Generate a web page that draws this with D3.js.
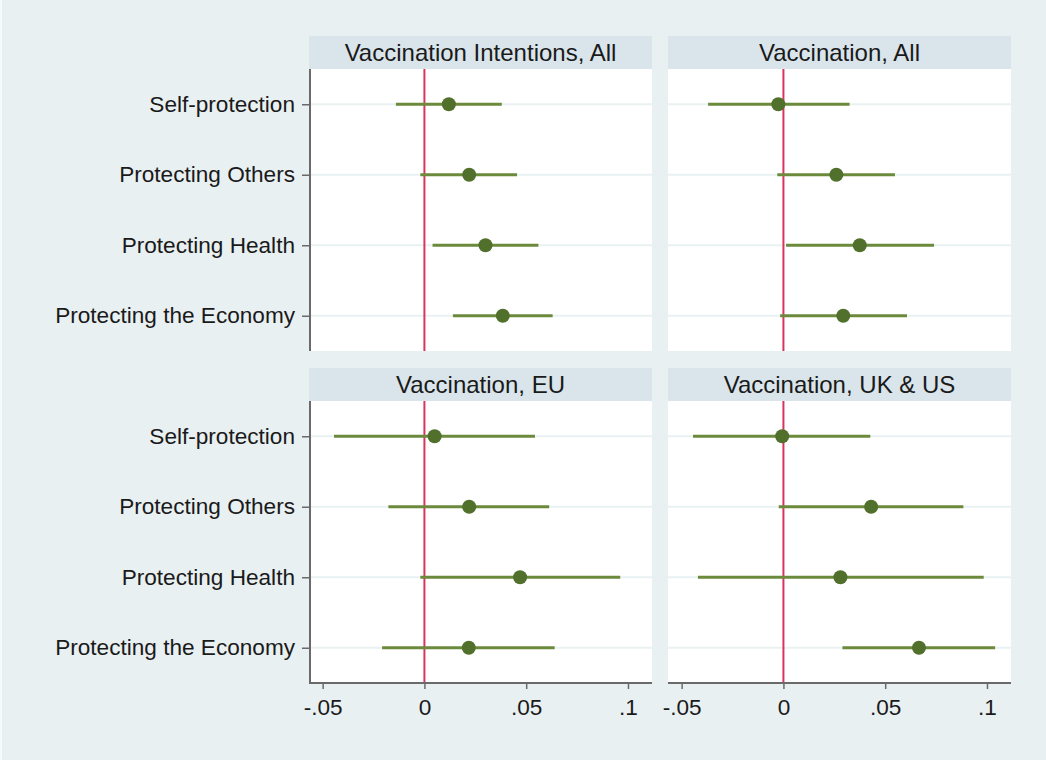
<!DOCTYPE html>
<meta charset="utf-8">
<script src="https://d3js.org/d3.v7.min.js"></script>
<style>
  body { margin: 0; background: #e9f0f2; font-family: "Liberation Sans", Arial, sans-serif; }
</style>
<body>
<div id="chart"></div>
<script>

// categories (top to bottom)
const categories = ["Self-protection", "Protecting Others", "Protecting Health", "Protecting the Economy"];

// panel titles
const panelTitles = ["Vaccination Intentions, All", "Vaccination, All", "Vaccination, EU", "Vaccination, UK & US"];

// point estimates and confidence bounds for each panel
const intentAllEst = [0.012, 0.022, 0.030, 0.0385];
const intentAllLo  = [-0.014, -0.002, 0.004, 0.014];
const intentAllHi  = [0.038, 0.0455, 0.056, 0.063];

const vaccAllEst = [-0.0025, 0.026, 0.0375, 0.0294];
const vaccAllLo  = [-0.037, -0.003, 0.0013, -0.0016];
const vaccAllHi  = [0.0325, 0.0548, 0.074, 0.0607];

const vaccEuEst = [0.005, 0.022, 0.047, 0.0218];
const vaccEuLo  = [-0.0444, -0.0177, -0.002, -0.0208];
const vaccEuHi  = [0.0543, 0.0613, 0.0962, 0.064];

const vaccUkUsEst = [-0.0006, 0.0431, 0.028, 0.0666];
const vaccUkUsLo  = [-0.0444, -0.0023, -0.042, 0.029];
const vaccUkUsHi  = [0.0427, 0.0884, 0.0984, 0.104];

const xTicks = [-0.05, 0, 0.05, 0.1];
const xTickLabels = ["-.05", "0", ".05", ".1"];

const panels = [
  {title: panelTitles[0], est: intentAllEst, lo: intentAllLo, hi: intentAllHi, col: 0, row: 0},
  {title: panelTitles[1], est: vaccAllEst, lo: vaccAllLo, hi: vaccAllHi, col: 1, row: 0},
  {title: panelTitles[2], est: vaccEuEst, lo: vaccEuLo, hi: vaccEuHi, col: 0, row: 1},
  {title: panelTitles[3], est: vaccUkUsEst, lo: vaccUkUsLo, hi: vaccUkUsHi, col: 1, row: 1}
];

const W = 1046, H = 760;
const colX = [309, 668], panelW = 343;
const rowY = [69, 401], panelH = 282, headH = 33;

const svg = d3.select("#chart").append("svg")
  .attr("width", W).attr("height", H)
  .style("display", "block");

svg.append("rect").attr("width", W).attr("height", H).attr("fill", "#e9f0f2");
// thin white edge on the left like the exported image
svg.append("rect").attr("x", 0).attr("y", 0).attr("width", 2).attr("height", H).attr("fill", "#f7fafb");

panels.forEach(function(p) {
  const x0 = colX[p.col], y0 = rowY[p.row];

  const x = d3.scaleLinear().domain([-0.0567, 0.1118]).range([x0, x0 + panelW]);
  const y = d3.scalePoint().domain(categories).range([y0, y0 + panelH]).padding(0.5);

  // header strip
  svg.append("rect")
    .attr("x", x0).attr("y", y0 - headH)
    .attr("width", panelW).attr("height", headH)
    .attr("fill", "#d9e5ea");
  svg.append("text")
    .attr("x", x0 + panelW / 2).attr("y", y0 - headH / 2 + 8)
    .attr("text-anchor", "middle")
    .attr("font-size", 24)
    .attr("fill", "#1a1a1a")
    .text(p.title);

  // plot area
  svg.append("rect")
    .attr("x", x0).attr("y", y0)
    .attr("width", panelW).attr("height", panelH)
    .attr("fill", "#ffffff");

  // grid lines
  svg.append("g").selectAll("line")
    .data(categories).join("line")
      .attr("x1", x0).attr("x2", x0 + panelW)
      .attr("y1", d => y(d)).attr("y2", d => y(d))
      .attr("stroke", "#eaf1f3").attr("stroke-width", 2);

  // reference line at zero
  svg.append("line")
    .attr("x1", x(0)).attr("x2", x(0))
    .attr("y1", y0).attr("y2", y0 + panelH)
    .attr("stroke", "#d8345c").attr("stroke-width", 2);

  // confidence intervals
  svg.append("g").selectAll("line")
    .data(categories).join("line")
      .attr("x1", (d, i) => x(p.lo[i])).attr("x2", (d, i) => x(p.hi[i]))
      .attr("y1", d => y(d)).attr("y2", d => y(d))
      .attr("stroke", "#6b8a3c").attr("stroke-width", 3);

  // point estimates
  svg.append("g").selectAll("circle")
    .data(categories).join("circle")
      .attr("cx", (d, i) => x(p.est[i]))
      .attr("cy", d => y(d))
      .attr("r", 7)
      .attr("fill", "#51702b");

  // y axis on left column only
  if (p.col === 0) {
    const yAxis = svg.append("g")
      .attr("transform", `translate(${x0 + 1}, 0)`)
      .call(d3.axisLeft(y).tickSize(8).tickPadding(7));
    yAxis.select(".domain").attr("stroke", "#6a6a6a").attr("stroke-width", 2)
      .attr("d", `M0,${y0}V${y0 + panelH}`);
    yAxis.selectAll(".tick line").attr("stroke", "#6a6a6a").attr("stroke-width", 1.5);
    yAxis.selectAll(".tick text").attr("font-size", 22.6).attr("fill", "#1a1a1a")
      .attr("font-family", "Liberation Sans, Arial, sans-serif");
  }

  // x axis on bottom row only
  if (p.row === 1) {
    const xAxis = svg.append("g")
      .attr("transform", `translate(0, ${y0 + panelH})`)
      .call(d3.axisBottom(x).tickValues(xTicks)
        .tickFormat((d, i) => xTickLabels[i]).tickSize(6).tickPadding(10));
    xAxis.select(".domain").attr("stroke", "#6a6a6a").attr("stroke-width", 2)
      .attr("d", `M${x0},0H${x0 + panelW}`);
    xAxis.selectAll(".tick line").attr("stroke", "#6a6a6a").attr("stroke-width", 1.5);
    xAxis.selectAll(".tick text").attr("font-size", 22.6).attr("fill", "#1a1a1a")
      .attr("font-family", "Liberation Sans, Arial, sans-serif");
  }
});

</script>
</body>
